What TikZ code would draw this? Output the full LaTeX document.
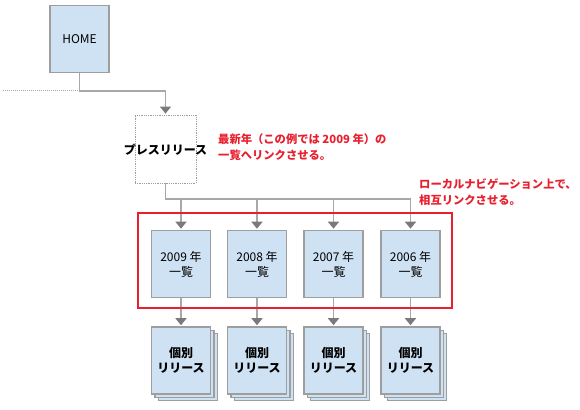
\documentclass[tikz,border=0pt]{standalone}
\usepackage{fontspec}
\setmainfont{Noto Sans CJK JP}
\usetikzlibrary{arrows.meta,shadows}
\definecolor{boxfill}{HTML}{CFE2F3}
\definecolor{boxline}{HTML}{9E9E9E}
\definecolor{conn}{HTML}{A8A8A8}
\definecolor{tipc}{HTML}{7A7A7A}
\definecolor{note}{HTML}{E8202E}
\tikzset{
  pagebox/.style={draw=boxline, line width=1.6pt, fill=boxfill, minimum width=59pt, minimum height=67pt, inner sep=0pt, align=center, font=\fontsize{12}{15}\selectfont},
  stackbox/.style={pagebox, double copy shadow={shadow xshift=3.4pt, shadow yshift=-3.4pt, draw=boxline, line width=1.2pt, fill=boxfill}},
  ghostbox/.style={draw=boxline, densely dotted, line width=0.8pt, minimum width=61pt, minimum height=68pt, inner sep=0pt},
  link/.style={draw=conn, line width=1.6pt},
  arr/.style={link, -{Triangle[width=11pt,length=7pt,color=tipc]}, shorten >=1pt},
  notetext/.style={text=note, font=\fontsize{11.3}{16}\selectfont\bfseries, align=left, anchor=north west, inner sep=0pt},
}
\begin{document}
\begin{tikzpicture}[x=1pt,y=-1pt]
\useasboundingbox (0,0) rectangle (580,409);
% nodes
\node[pagebox] (home) at (79.5,39) {HOME};
\node[ghostbox] (press) at (165.5,149) {};
\node[font=\fontsize{12}{15}\selectfont\bfseries, inner sep=0pt] (presstext) at (165.5,150) {プレスリリース};
\node[pagebox] (y9) at (181,264) {2009 年\\一覧};
\node[pagebox] (y8) at (257,264) {2008 年\\一覧};
\node[pagebox] (y7) at (333.5,264) {2007 年\\一覧};
\node[pagebox] (y6) at (410.5,264) {2006 年\\一覧};
\node[stackbox] (r9) at (181,360.5) {\bfseries 個別\\\bfseries リリース};
\node[stackbox] (r8) at (257,360.5) {\bfseries 個別\\\bfseries リリース};
\node[stackbox] (r7) at (333.5,360.5) {\bfseries 個別\\\bfseries リリース};
\node[stackbox] (r6) at (410.5,360.5) {\bfseries 個別\\\bfseries リリース};
% connectors
\coordinate (hj) at (79.5,91);
\coordinate (dl) at (3,91);
\coordinate (pj) at (165.5,91);
\draw[draw=conn, densely dotted, line width=1pt] (dl) -- (hj);
\draw[link] (home.south) -- (hj) -- (pj);
\draw[arr] (pj) -- (press.north);
\coordinate (b0) at (165.5,199);
\coordinate (b9) at (181,199);
\coordinate (b8) at (257,199);
\coordinate (b7) at (333.5,199);
\coordinate (b6) at (410.5,199);
\draw[link] (press.south) -- (b0) -- (b6);
\foreach \i in {9,8,7,6}{
  \draw[arr] (b\i) -- (y\i.north);
  \draw[arr] (y\i.south) -- (r\i.north);
}
% highlight frame
\node[draw=note, line width=1.5pt, minimum width=314pt, minimum height=95pt, inner sep=0pt] (frame) at (295,260.5) {};
% notes
\node[notetext] (n1) at (218,133.5) {最新年（この例では 2009 年）の\\一覧へリンクさせる。};
\node[notetext] (n2) at (419,178.5) {ローカルナビゲーション上で、\\相互リンクさせる。};
\end{tikzpicture}
\end{document}
